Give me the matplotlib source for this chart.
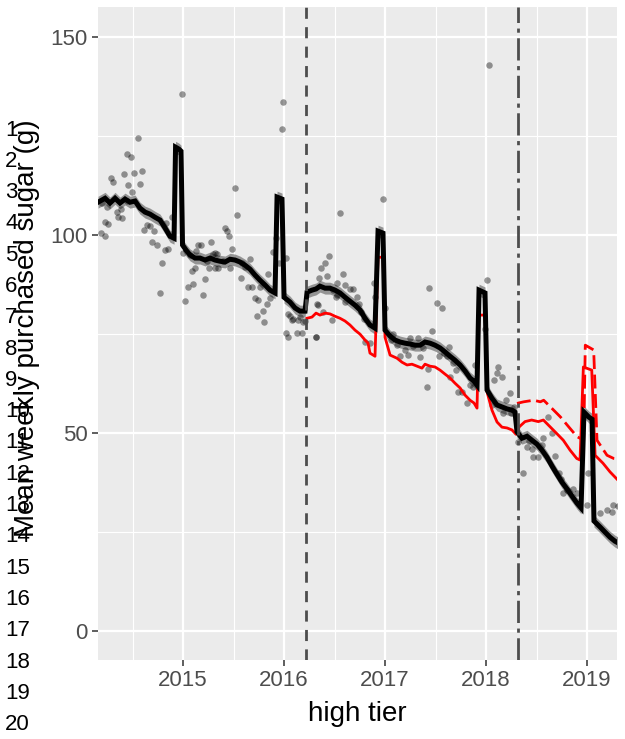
import numpy as np
import matplotlib.pyplot as plt

plt.rcParams['font.family'] = ['Liberation Sans', 'DejaVu Sans']

# weekly observed means (grey points)
obs_year = [2014.195, 2014.228, 2014.260, 2014.188, 2014.228, 2014.287, 2014.304, 2014.344, 2014.386,
            2014.359, 2014.399, 2014.419, 2014.443, 2014.482, 2014.458, 2014.498, 2014.518, 2014.557,
            2014.574, 2014.597, 2014.641, 2014.673, 2014.617, 2014.716, 2014.690, 2014.740, 2014.832,
            2014.888, 2014.822, 2014.854, 2014.789, 2014.772, 2014.987, 2015.020, 2015.052, 2015.102,
            2015.086, 2015.119, 2015.151, 2015.129, 2015.069, 2015.218, 2015.201, 2015.277, 2015.260,
            2015.317, 2015.350, 2015.317, 2015.300, 2015.340, 2015.235, 2015.175, 2015.465, 2015.416,
            2015.433, 2015.455, 2015.488, 2015.512, 2015.532, 2015.571, 2015.614, 2015.663, 2015.647,
            2015.680, 2015.713, 2015.746, 2015.762, 2015.829, 2015.845, 2015.861, 2015.795, 2015.730,
            2015.802, 2015.921, 2015.894, 2015.950, 2015.977, 2015.993, 2016.017, 2016.059, 2016.076,
            2016.142, 2016.191, 2016.020, 2016.043, 2016.126, 2016.181, 2016.317, 2016.092, 2016.043,
            2016.324, 2016.472, 2016.515, 2016.554, 2016.449, 2016.406, 2016.366, 2016.350, 2016.429,
            2016.488, 2016.522, 2016.587, 2016.528, 2016.604, 2016.653, 2016.686, 2016.720, 2016.334,
            2016.389, 2016.158, 2016.208, 2016.314, 2016.894, 2016.901, 2016.977, 2017.000, 2016.802,
            2016.851, 2017.436, 2017.512, 2017.561, 2017.462, 2017.248, 2017.324, 2017.116, 2017.149,
            2017.198, 2017.231, 2017.347, 2017.429, 2017.538, 2017.587, 2017.611, 2017.634, 2017.676,
            2017.644, 2017.419, 2017.726, 2017.759, 2017.809, 2017.842, 2017.891, 2017.874, 2018.007,
            2017.990, 2018.030, 2018.082, 2018.122, 2018.056, 2018.106, 2018.155, 2018.238, 2018.198,
            2018.171, 2018.320, 2018.369, 2018.403, 2018.453, 2018.468, 2018.518, 2018.617, 2018.650,
            2018.567, 2018.683, 2018.765, 2018.799, 2018.864, 2018.898, 2019.013, 2018.997, 2019.129,
            2019.195, 2019.261, 2019.245, 2019.307, 2016.760, 2016.790, 2016.740, 2016.600, 2017.060,
            2017.080, 2017.280, 2017.380, 2017.700, 2018.250, 2018.280, 2018.430, 2018.550, 2018.720,
            2018.740, 2014.250, 2014.450, 2015.000, 2015.400, 2015.580]
obs_sugar = [108.0, 103.4, 102.8, 100.5, 99.8, 114.5, 113.5, 105.9, 106.5,
             104.6, 104.4, 115.4, 120.6, 119.8, 112.6, 110.8, 115.7, 124.4,
             112.8, 116.2, 102.5, 102.3, 101.3, 101.1, 98.2, 97.5, 103.1,
             104.6, 96.2, 96.4, 93.0, 85.5, 135.6, 83.3, 86.9, 87.6,
             91.0, 91.6, 97.5, 96.0, 94.9, 88.8, 84.8, 98.3, 91.6,
             91.6, 91.6, 95.4, 95.2, 95.2, 93.5, 97.5, 91.6, 101.9,
             101.0, 99.8, 96.5, 111.9, 105.2, 89.1, 92.0, 93.9, 86.9,
             86.8, 84.2, 83.6, 86.9, 82.6, 90.3, 84.0, 80.8, 79.5,
             78.1, 99.2, 95.8, 92.9, 126.9, 133.7, 94.1, 79.6, 78.5,
             78.5, 78.0, 75.2, 74.3, 75.2, 75.3, 74.2, 78.7, 80.2,
             82.6, 78.5, 84.3, 105.5, 94.8, 92.9, 91.8, 89.1, 89.7,
             86.1, 84.8, 90.3, 87.8, 87.4, 86.5, 86.5, 84.4, 82.3,
             80.6, 79.4, 78.4, 74.2, 88.0, 84.4, 109.0, 81.5, 73.1,
             72.7, 86.7, 82.9, 81.5, 75.8, 73.9, 73.9, 72.2, 69.4,
             71.0, 69.7, 69.3, 66.3, 69.4, 70.1, 69.4, 71.8, 67.6,
             64.2, 61.7, 60.4, 60.3, 57.5, 62.1, 67.2, 61.7, 88.6,
             76.4, 142.9, 63.4, 66.7, 57.2, 65.1, 64.2, 60.0, 58.3,
             55.0, 47.8, 40.0, 46.5, 46.1, 44.0, 44.0, 54.0, 49.9,
             48.7, 44.2, 34.8, 35.6, 36.0, 34.8, 39.8, 31.8, 29.7,
             30.6, 31.8, 30.1, 31.6, 80.5, 78.8, 82.5, 83.0, 73.5,
             75.0, 72.0, 71.5, 66.0, 55.0, 56.5, 48.0, 47.0, 40.0,
             38.5, 107.0, 108.5, 95.5, 93.5, 93.0]

# fitted model (black line)
fit_year = [2014.158, 2014.228, 2014.277, 2014.327, 2014.376, 2014.426, 2014.475, 2014.525, 2014.574,
            2014.624, 2014.673, 2014.723, 2014.772, 2014.822, 2014.871, 2014.911, 2014.926, 2014.960,
            2014.980, 2014.995, 2015.030, 2015.069, 2015.119, 2015.168, 2015.218, 2015.267, 2015.317,
            2015.366, 2015.416, 2015.465, 2015.515, 2015.564, 2015.614, 2015.663, 2015.713, 2015.762,
            2015.812, 2015.861, 2015.911, 2015.931, 2015.980, 2016.000, 2016.059, 2016.109, 2016.158,
            2016.208, 2016.228, 2016.277, 2016.317, 2016.356, 2016.406, 2016.455, 2016.505, 2016.554,
            2016.604, 2016.653, 2016.703, 2016.752, 2016.802, 2016.851, 2016.901, 2016.931, 2016.980,
            2017.000, 2017.050, 2017.099, 2017.149, 2017.198, 2017.248, 2017.297, 2017.347, 2017.396,
            2017.446, 2017.495, 2017.545, 2017.594, 2017.644, 2017.693, 2017.743, 2017.792, 2017.842,
            2017.881, 2017.911, 2017.931, 2017.990, 2018.010, 2018.059, 2018.109, 2018.158, 2018.208,
            2018.257, 2018.287, 2018.307, 2018.356, 2018.406, 2018.455, 2018.505, 2018.554, 2018.604,
            2018.653, 2018.703, 2018.752, 2018.802, 2018.851, 2018.901, 2018.941, 2018.970, 2019.020,
            2019.050, 2019.069, 2019.129, 2019.178, 2019.228, 2019.277, 2019.327]
fit_sugar = [108.3, 109.3, 108.1, 109.3, 108.1, 109.1, 108.3, 108.6, 106.8,
             105.8, 105.3, 104.5, 103.8, 101.8, 99.7, 99.2, 122.2, 121.7,
             121.2, 97.5, 96.2, 95.0, 94.2, 94.2, 93.7, 94.2, 93.7,
             93.4, 93.2, 93.9, 93.7, 93.2, 92.4, 91.4, 89.9, 88.6,
             87.4, 86.1, 85.4, 109.6, 109.1, 84.3, 83.1, 81.6, 80.8,
             80.8, 85.6, 86.1, 86.4, 87.1, 86.6, 86.6, 86.1, 85.4,
             84.3, 83.3, 82.3, 81.1, 79.0, 77.3, 76.5, 101.0, 100.5,
             76.0, 74.5, 73.5, 73.0, 72.7, 72.5, 72.2, 72.2, 73.0,
             72.7, 72.2, 71.5, 70.5, 69.4, 68.4, 67.2, 65.7, 63.9,
             63.1, 62.1, 86.1, 85.4, 60.9, 58.8, 57.1, 56.6, 56.1,
             55.8, 55.3, 50.3, 48.7, 49.2, 48.2, 47.2, 45.7, 43.9,
             41.7, 39.6, 37.6, 35.9, 34.1, 32.3, 31.1, 55.3, 54.0,
             53.5, 27.8, 26.3, 25.0, 23.7, 22.7, 22.0]
fit_se = 1.5

# counterfactual (red solid)
cf_year = [2016.228, 2016.277, 2016.317, 2016.356, 2016.406, 2016.455, 2016.505, 2016.554, 2016.604,
           2016.653, 2016.703, 2016.752, 2016.802, 2016.832, 2016.851, 2016.901, 2016.931, 2016.980,
           2017.000, 2017.050, 2017.119, 2017.168, 2017.218, 2017.267, 2017.317, 2017.366, 2017.396,
           2017.446, 2017.495, 2017.545, 2017.594, 2017.644, 2017.693, 2017.743, 2017.792, 2017.842,
           2017.881, 2017.911, 2017.931, 2017.990, 2018.010, 2018.059, 2018.109, 2018.158, 2018.208,
           2018.257, 2018.297, 2018.330, 2018.386, 2018.452, 2018.518, 2018.568, 2018.634, 2018.700,
           2018.765, 2018.832, 2018.898, 2018.931, 2018.964, 2019.047, 2019.080, 2019.158, 2019.228,
           2019.307]
cf_sugar = [79.0, 79.3, 80.3, 79.8, 80.3, 80.1, 79.5, 79.0, 78.3,
            77.3, 76.0, 75.0, 73.5, 72.7, 70.2, 69.4, 94.4, 94.4,
            74.2, 69.7, 68.9, 67.9, 67.2, 67.4, 66.9, 66.4, 67.4,
            66.9, 66.7, 65.9, 64.9, 63.9, 62.6, 61.4, 59.6, 58.3,
            57.6, 56.3, 79.8, 79.8, 60.4, 55.8, 52.8, 51.5, 51.3,
            50.8, 49.7, 51.6, 52.9, 53.3, 52.9, 53.3, 51.6, 49.9,
            48.2, 45.7, 43.6, 43.2, 66.7, 65.9, 44.4, 42.4, 40.2,
            38.1]

# counterfactual, second tier (red dashed)
cf2_year = [2018.307, 2018.373, 2018.472, 2018.538, 2018.571, 2018.654, 2018.736, 2018.818, 2018.901,
            2018.967, 2018.983, 2019.066, 2019.099, 2019.198, 2019.264, 2019.327]
cf2_sugar = [57.5, 57.9, 58.3, 57.9, 58.3, 56.2, 54.1, 51.6, 49.1,
             48.2, 72.2, 71.0, 48.2, 44.4, 43.6, 43.4]

announce_year = 2016.22
implement_year = 2018.32

year_ticks = [2015, 2016, 2017, 2018, 2019]
sugar_ticks = [0, 50, 100, 150]
row_labels = [str(i) for i in range(1, 21)]

fig = plt.figure(figsize=(6.25, 7.39), dpi=100)
ax = fig.add_axes([98 / 625, 1 - 660 / 739, 519 / 625, 653 / 739])
ax.set_facecolor('#EBEBEB')

fit_year = np.array(fit_year)
fit_sugar = np.array(fit_sugar)
ax.fill_between(fit_year, fit_sugar - fit_se, fit_sugar + fit_se, color='#7F7F7F', alpha=0.8,
                lw=0, zorder=2)
ax.scatter(obs_year, obs_sugar, s=22, color='black', alpha=0.4, lw=0, zorder=3)
ax.plot(cf_year, cf_sugar, color='red', lw=2, zorder=4)
ax.plot(cf2_year, cf2_sugar, color='red', lw=2, dashes=(5, 2), zorder=4)
ax.plot(fit_year, fit_sugar, color='black', lw=3.6, solid_joinstyle='miter', zorder=5)

ax.axvline(announce_year, color='#4D4D4D', lw=2, dashes=(4, 3), zorder=6)
ax.axvline(implement_year, color='#4D4D4D', lw=2, dashes=(8, 2, 1.5, 2), zorder=6)

ax.set_xlim(2014.158, 2019.297)
ax.set_ylim(-7.3, 157.6)
ax.set_xticks(year_ticks)
ax.set_xticklabels([str(y) for y in year_ticks])
ax.set_xticks([y - 0.5 for y in year_ticks], minor=True)
ax.set_yticks(sugar_ticks)
ax.set_yticks([25, 75, 125], minor=True)
ax.grid(which='major', color='white', lw=1.6)
ax.grid(which='minor', color='white', lw=0.8)
ax.set_axisbelow(True)
for s in ax.spines.values():
    s.set_visible(False)
ax.tick_params(which='major', length=4.5, width=1.1, color='#333333', labelcolor='#4D4D4D',
               labelsize=16, pad=3)
ax.tick_params(which='minor', length=0)

ax.set_xlabel('high tier', fontsize=20, labelpad=7)

for i, lab in enumerate(row_labels):
    fig.text(5 / 625, 1 - (130 + i * 31.3) / 739, lab, fontsize=16, ha='left', va='center')
fig.text(27 / 625, 1 - 328 / 739, 'Mean weekly purchased sugar (g)', rotation=90,
         fontsize=20, ha='center', va='center')

fig.savefig('out.png', dpi=100)
